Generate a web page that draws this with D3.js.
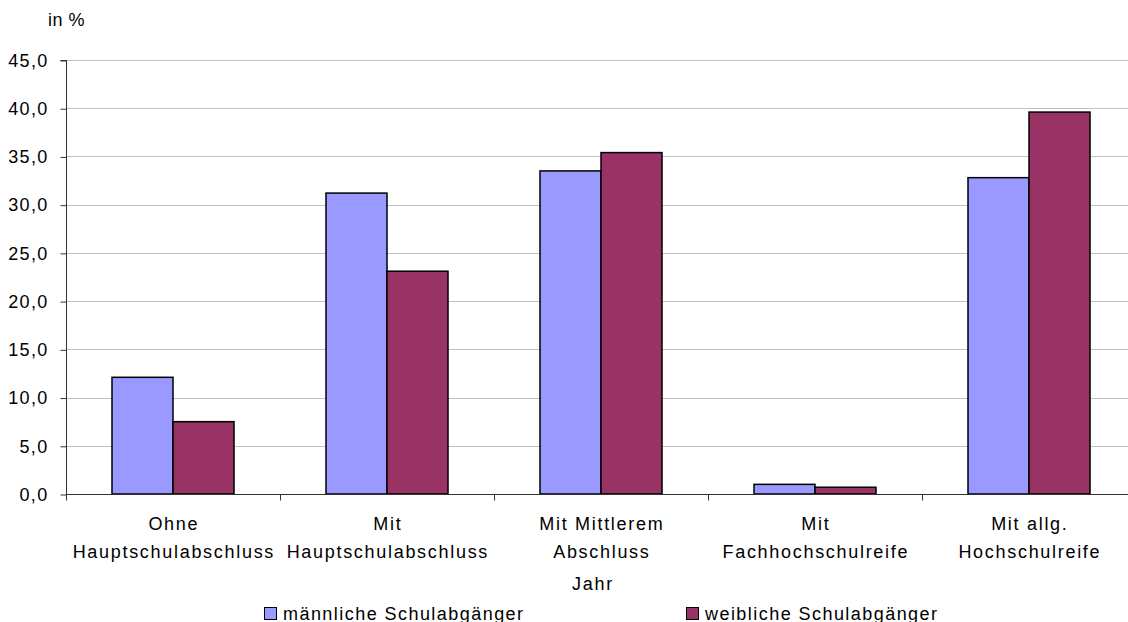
<!DOCTYPE html>
<html>
<head>
<meta charset="utf-8">
<script src="https://cdn.jsdelivr.net/npm/d3@7/dist/d3.min.js"></script>
<style>
  html, body { margin: 0; padding: 0; background: #fff; }
  svg { display: block; }
  text { font-family: "Liberation Sans", Arial, sans-serif; fill: #000; }
</style>
</head>
<body>
<svg id="chart" width="1128" height="622"></svg>
<script>
const categories = [
  ["Ohne", "Hauptschulabschluss"],
  ["Mit", "Hauptschulabschluss"],
  ["Mit Mittlerem", "Abschluss"],
  ["Mit", "Fachhochschulreife"],
  ["Mit allg.", "Hochschulreife"]
];
const seriesNames = ["männliche Schulabgänger", "weibliche Schulabgänger"];
const maleValues = [12.1, 31.2, 33.5, 1.0, 32.8];
const femaleValues = [7.5, 23.1, 35.4, 0.7, 39.6];
const seriesColors = ["#9999FF", "#993366"];
const yTicks = [0, 5, 10, 15, 20, 25, 30, 35, 40, 45];
const yUnitLabel = "in %";
const xAxisTitle = "Jahr";

(function () {
const svg = d3.select("#chart");
const W = 1128;
const plotLeft = 66, plotTop = 60, plotBottom = 494;
const catKeys = categories.map((c, i) => i);
const seriesValues = [maleValues, femaleValues];

const x0 = d3.scaleBand().domain(catKeys).range([plotLeft, plotLeft + 5 * 214]).paddingInner(0).paddingOuter(0);
const x1 = d3.scaleBand().domain([0, 1]).range([0, x0.bandwidth()]).paddingInner(0).paddingOuter(0.754);
const y = d3.scaleLinear().domain([0, 45]).range([plotBottom, plotTop]);

const fmt = v => d3.format(".1f")(v).replace(".", ",");
const fontSize = 18, ls = 1.7;

// gridlines
svg.append("g").selectAll("line").data(yTicks.filter(t => t > 0)).join("line")
  .attr("x1", plotLeft).attr("x2", W)
  .attr("y1", d => Math.round(y(d)) + 0.5).attr("y2", d => Math.round(y(d)) + 0.5)
  .attr("stroke", "#c0c0c0").attr("stroke-width", 1.2);

// bars
const groups = svg.append("g").selectAll("g").data(catKeys).join("g")
  .attr("transform", d => `translate(${x0(d)},0)`);
groups.selectAll("rect").data(i => seriesValues.map((s, k) => ({ k, v: s[i] }))).join("rect")
  .attr("x", d => x1(d.k))
  .attr("y", d => y(d.v))
  .attr("width", x1.bandwidth())
  .attr("height", d => y(0) - y(d.v))
  .attr("fill", d => seriesColors[d.k])
  .attr("stroke", "#000").attr("stroke-width", 1.5);

// y axis
const yAxis = d3.axisLeft(y).tickValues(yTicks).tickFormat(fmt).tickSize(6).tickPadding(12);
const gy = svg.append("g").attr("transform", `translate(${plotLeft + 0.5},0.5)`).call(yAxis);
gy.select(".domain").attr("stroke", "#333").attr("d", `M-6,${y(45)}H0V${y(0)}`);
gy.selectAll(".tick line").attr("stroke", "#333");
gy.selectAll(".tick text").attr("font-size", fontSize).attr("letter-spacing", 1.3)
  .attr("font-family", "Liberation Sans, Arial, sans-serif").attr("fill", "#000");

// x axis
const xAxis = d3.axisBottom(x0).tickValues([]).tickSize(0);
const gx = svg.append("g").attr("transform", `translate(0,${Math.round(y(0)) + 0.5})`).call(xAxis);
gx.select(".domain").attr("stroke", "#333").attr("d", `M${plotLeft},0H${W}`);
gx.selectAll("line.div").data(catKeys).join("line").attr("class", "div")
  .attr("x1", d => Math.round(x0(d)) + 0.5).attr("x2", d => Math.round(x0(d)) + 0.5)
  .attr("y1", 0).attr("y2", 6).attr("stroke", "#333");

// category labels
const labels = svg.append("g").selectAll("text").data(catKeys).join("text")
  .attr("text-anchor", "middle").attr("font-size", fontSize).attr("letter-spacing", ls);
labels.each(function (d) {
  const cx = x0(d) + x0.bandwidth() / 2 + ls / 2;
  d3.select(this).selectAll("tspan").data(categories[d]).join("tspan")
    .attr("x", cx).attr("y", (t, j) => 530 + j * 28).text(t => t);
});

// axis title
svg.append("text").attr("x", 593).attr("y", 590).attr("text-anchor", "middle")
  .attr("font-size", fontSize).attr("letter-spacing", ls).text(xAxisTitle);

// unit label
svg.append("text").attr("x", 48).attr("y", 26).attr("font-size", fontSize).attr("letter-spacing", 0.5).text(yUnitLabel);

// legend
const legendPos = [264, 686];
const lg = svg.append("g").selectAll("g").data(seriesNames).join("g")
  .attr("transform", (d, i) => `translate(${legendPos[i]},607)`);
lg.append("rect").attr("x", 0.5).attr("y", 0.5).attr("width", 12).attr("height", 12)
  .attr("fill", (d, i) => seriesColors[i]).attr("stroke", "#000").attr("stroke-width", 1);
lg.append("text").attr("x", 19).attr("y", 12.5).attr("font-size", fontSize).attr("letter-spacing", 1.45)
  .text(d => d);
})();
</script>
</body>
</html>
